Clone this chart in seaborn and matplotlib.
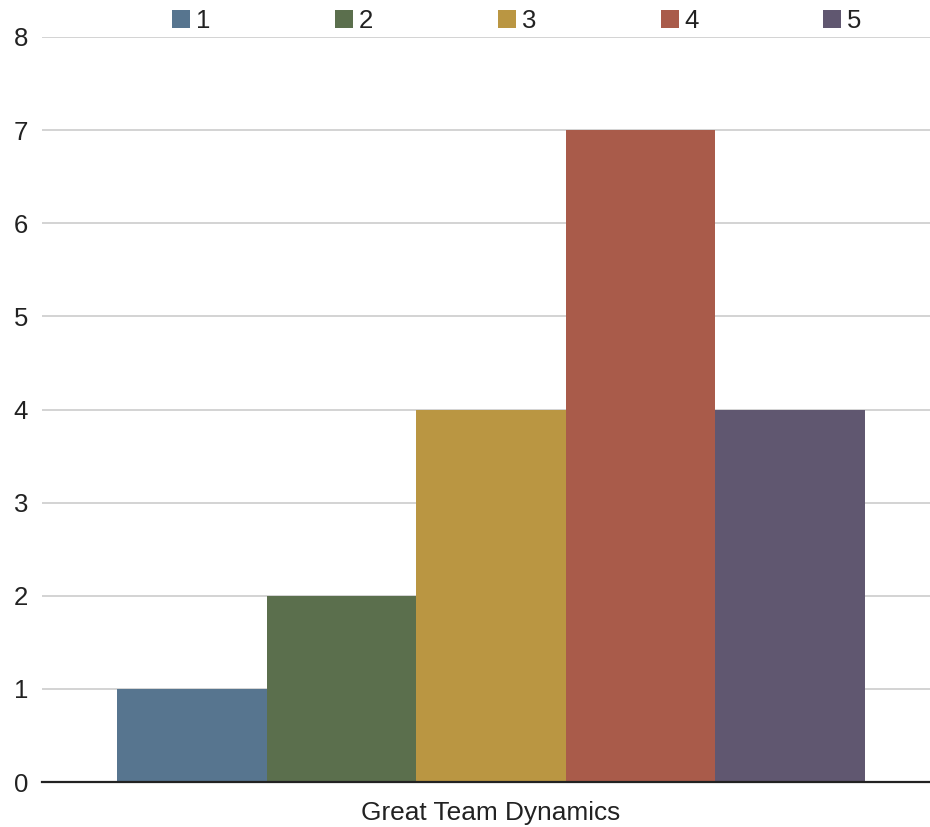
import matplotlib
matplotlib.use("Agg")
import matplotlib.pyplot as plt
import seaborn as sns
import pandas as pd

category = "Great Team Dynamics"
ratings = ["1", "2", "3", "4", "5"]
counts = [1, 2, 4, 7, 4]
colors = ["#57758F", "#5B6F4D", "#BA9642", "#A95B4A", "#605770"]
y_ticks = [0, 1, 2, 3, 4, 5, 6, 7, 8]

df = pd.DataFrame({"category": [category] * len(ratings), "rating": ratings, "count": counts})

sns.set_theme(style="white")
plt.rcParams["font.family"] = ["Liberation Sans", "DejaVu Sans"]

FS = 18.5

fig = plt.figure(figsize=(9.30, 8.27), dpi=100)
ax = fig.add_axes([42 / 930, 45 / 827, 888 / 930, 745 / 827])

sns.barplot(data=df, x="category", y="count", hue="rating", palette=colors,
            width=1.0, dodge=True, saturation=1, ax=ax, legend=True,
            edgecolor="none", linewidth=0)

ax.set_xlim(-0.5 - 75 / 748, 0.5 + 65 / 748)
ax.set_ylim(0, 8)
ax.set_yticks(y_ticks)
ax.yaxis.grid(True, color="#cccccc", linewidth=1.2)
ax.set_axisbelow(True)
for s in ["top", "right", "left"]:
    ax.spines[s].set_visible(False)
ax.spines["bottom"].set_color("#222222")
ax.spines["bottom"].set_linewidth(1.6)
ax.spines["bottom"].set_zorder(5)
ax.tick_params(axis="y", length=0, labelsize=FS, colors="#222222", pad=10)
ax.tick_params(axis="x", length=0, labelsize=FS + 0.4, colors="#222222", pad=14)
ax.set_xlabel("")
ax.set_ylabel("")

handles, labels = ax.get_legend_handles_labels()
ax.legend(handles, labels, loc="center left", bbox_to_anchor=(172 / 930, 1 - 21 / 827),
          bbox_transform=fig.transFigure, ncol=5, frameon=False, fontsize=FS,
          handlelength=0.7, handleheight=0.7, handletextpad=0.23,
          columnspacing=4.85, borderpad=0, borderaxespad=0, labelcolor="#222222")

fig.savefig("out.png", dpi=100)
